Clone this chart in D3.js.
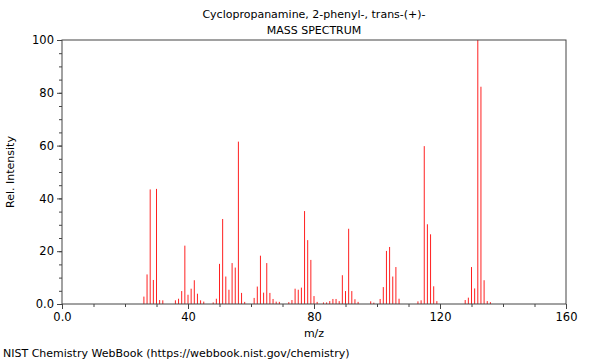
<!DOCTYPE html>
<html><head><meta charset="utf-8">
<script src="https://cdn.jsdelivr.net/npm/d3@7"></script>
<style>body{margin:0;background:#fff}svg{display:block}text{font-family:"DejaVu Sans",sans-serif;fill:#000}</style>
</head><body>
<svg id="c" width="600" height="360"></svg>
<script>
const mz = [26,27,28,29,30,31,32,36,37,38,39,40,41,42,43,44,45,48,49,50,51,52,53,54,55,56,57,58,61,62,63,64,65,66,67,68,69,72,73,74,75,76,77,78,79,80,81,83,84,85,86,87,88,89,90,91,92,93,94,98,99,101,102,103,104,105,106,107,113,114,115,116,117,118,119,128,129,130,131,132,133,134,135,136];
const intensity = [2.8,11.2,43.4,9.1,43.6,1.5,1.4,1.4,2.0,4.9,22.1,3.5,5.8,9.0,3.9,1.4,0.9,0.6,2.0,15.2,32.2,10.4,5.4,15.5,13.8,61.5,4.2,0.8,2.3,6.6,18.3,4.3,15.5,4.2,1.9,0.9,0.8,0.7,1.5,5.8,5.4,6.2,35.2,24.2,16.7,3.0,0.8,0.6,0.6,1.1,1.9,1.9,1.1,10.9,4.9,28.5,4.9,1.8,0.8,1.0,0.5,1.9,6.4,20.1,21.6,10.4,14.0,2.0,1.0,1.4,59.8,30.2,26.4,6.7,1.1,1.5,2.4,14.0,5.9,100,82.3,9.0,1.1,0.7];
const xTicks = [0,40,80,120,160];
const xTickLabels = ["0.0","40","80","120","160"];
const yTicks = [0,20,40,60,80,100];
const yTickLabels = ["0.0","20","40","60","80","100"];
const titleLines = ["Cyclopropanamine, 2-phenyl-, trans-(+)-","MASS SPECTRUM"];

const svg = d3.select("#c");
const L=62,R=566,T=40,B=304;
const x = d3.scaleLinear().domain([0,160]).range([L,R]);
const y = d3.scaleLinear().domain([0,100]).range([B,T]);
const axisCol="#444";

// peaks
svg.append("g").selectAll("line").data(mz).join("line")
  .attr("x1",(d)=>x(d)).attr("x2",(d)=>x(d))
  .attr("y1",y(0)).attr("y2",(d,i)=>y(intensity[i]))
  .attr("stroke","#ff2020").attr("stroke-width",1);

// frame
svg.append("rect").attr("x",L).attr("y",T).attr("width",R-L).attr("height",B-T)
  .attr("fill","none").attr("stroke",axisCol).attr("stroke-width",1);

// x axis
const xa = svg.append("g").attr("transform",`translate(0,${B})`);
xa.call(d3.axisBottom(x).tickValues(d3.range(0,161,10)).tickSize(3).tickFormat(""))
  .call(g=>g.select(".domain").remove()).selectAll("line").attr("stroke",axisCol);
const xb = svg.append("g").attr("transform",`translate(0,${B})`);
xb.call(d3.axisBottom(x).tickValues(xTicks).tickSize(5).tickPadding(4).tickFormat((d,i)=>xTickLabels[i]))
  .call(g=>g.select(".domain").remove());
xb.selectAll("line").attr("stroke",axisCol);
xb.selectAll("text").style("font-size","11.5px").style("font-family","DejaVu Sans").attr("fill","#000");

// y axis
const ya = svg.append("g").attr("transform",`translate(${L},0)`);
ya.call(d3.axisLeft(y).tickValues(d3.range(0,101,5)).tickSize(3).tickFormat(""))
  .call(g=>g.select(".domain").remove()).selectAll("line").attr("stroke",axisCol);
const yb = svg.append("g").attr("transform",`translate(${L},0)`);
yb.call(d3.axisLeft(y).tickValues(yTicks).tickSize(5).tickPadding(3).tickFormat((d,i)=>yTickLabels[i]))
  .call(g=>g.select(".domain").remove());
yb.selectAll("line").attr("stroke",axisCol);
yb.selectAll("text").style("font-size","11.5px").style("font-family","DejaVu Sans").attr("fill","#000");

// titles
svg.selectAll("text.title").data(titleLines).join("text").attr("class","title")
  .attr("x",(L+R)/2).attr("y",(d,i)=>18+i*16).attr("text-anchor","middle")
  .style("font-size","11px").text(d=>d);
svg.append("text").attr("x",(L+R)/2).attr("y",337).attr("text-anchor","middle")
  .style("font-size","11px").text("m/z");
svg.append("text").attr("transform",`translate(14,${(T+B)/2}) rotate(-90)`).attr("text-anchor","middle")
  .style("font-size","11px").text("Rel. Intensity");
svg.append("text").attr("x",3).attr("y",357).style("font-size","11px")
  .text("NIST Chemistry WebBook (https://webbook.nist.gov/chemistry)");
</script>
</body></html>
